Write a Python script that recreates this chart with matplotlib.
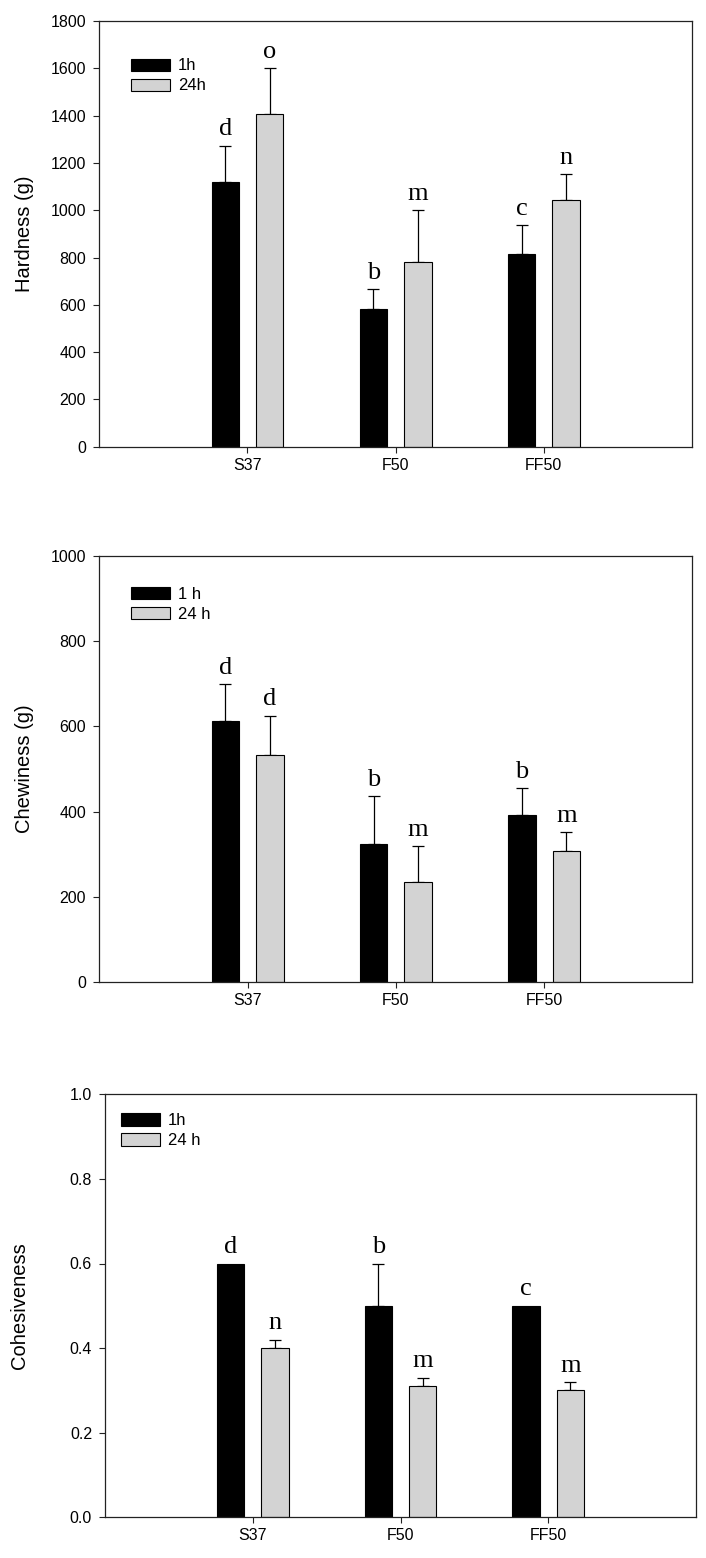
import matplotlib
matplotlib.use("Agg")
import matplotlib.pyplot as plt
import numpy as np

categories = ["S37", "F50", "FF50"]

hard_1h = [1120, 582, 815]
hard_1h_err = [153, 83, 122]
hard_24h = [1407, 782, 1042]
hard_24h_err = [193, 219, 111]
hard_letters_1h = ["d", "b", "c"]
hard_letters_24h = ["o", "m", "n"]

chew_1h = [612, 324, 391]
chew_1h_err = [87, 112, 64]
chew_24h = [533, 235, 307]
chew_24h_err = [92, 84, 44]
chew_letters_1h = ["d", "b", "b"]
chew_letters_24h = ["d", "m", "m"]

coh_1h = [0.6, 0.5, 0.5]
coh_1h_err = [0.0, 0.1, 0.0]
coh_24h = [0.40, 0.31, 0.30]
coh_24h_err = [0.02, 0.02, 0.02]
coh_letters_1h = ["d", "b", "c"]
coh_letters_24h = ["n", "m", "m"]

panels = [
    dict(v1=hard_1h, e1=hard_1h_err, v2=hard_24h, e2=hard_24h_err,
         l1=hard_letters_1h, l2=hard_letters_24h, ylabel="Hardness (g)",
         ylim=(0, 1800), yticks=np.arange(0, 1801, 200), fmt="{:.0f}",
         legend=("1h", "24h"),
         rect=[99.3, 21, 692, 446.7], lab_x=24, leg=(0.054, 0.912)),
    dict(v1=chew_1h, e1=chew_1h_err, v2=chew_24h, e2=chew_24h_err,
         l1=chew_letters_1h, l2=chew_letters_24h, ylabel="Chewiness (g)",
         ylim=(0, 1000), yticks=np.arange(0, 1001, 200), fmt="{:.0f}",
         legend=("1 h", "24 h"),
         rect=[99.3, 556, 692.3, 982], lab_x=24, leg=(0.054, 0.927)),
    dict(v1=coh_1h, e1=coh_1h_err, v2=coh_24h, e2=coh_24h_err,
         l1=coh_letters_1h, l2=coh_letters_24h, ylabel="Cohesiveness",
         ylim=(0, 1.0), yticks=np.arange(0, 1.01, 0.2), fmt="{:.1f}",
         legend=("1h", "24 h"),
         rect=[105.3, 1094.3, 695.7, 1517.3], lab_x=20, leg=(0.027, 0.955)),
]

W, H = 706, 1558
fig = plt.figure(figsize=(W / 100, H / 100), dpi=100)
sans = ["Liberation Sans", "DejaVu Sans"]
serif = ["Liberation Serif", "DejaVu Serif"]
spine_col = "#222222"

x = np.arange(1, len(categories) + 1)
bw = 0.185
off = 0.15

for p in panels:
    l, t, r, b = p["rect"]
    ax = fig.add_axes([l / W, 1 - b / H, (r - l) / W, (b - t) / H])
    b1 = ax.bar(x - off, p["v1"], bw, color="black", edgecolor="black", linewidth=0.8,
                label=p["legend"][0], zorder=2)
    b2 = ax.bar(x + off, p["v2"], bw, color="#d3d3d3", edgecolor="black", linewidth=0.8,
                label=p["legend"][1], zorder=2)
    for xs, vals, errs in [(x - off, p["v1"], p["e1"]), (x + off, p["v2"], p["e2"])]:
        for xi, v, e in zip(xs, vals, errs):
            if e > 0:
                ax.errorbar([xi], [v], yerr=[[0], [e]], fmt="none", ecolor="black",
                            elinewidth=0.9, capsize=4.5, capthick=0.9, zorder=1)
    for xs, vals, errs, labs in [(x - off, p["v1"], p["e1"], p["l1"]),
                                 (x + off, p["v2"], p["e2"], p["l2"])]:
        for xi, v, e, s in zip(xs, vals, errs, labs):
            ax.annotate(s, (xi, v + e), xytext=(0, 7.5), textcoords="offset points",
                        ha="center", va="baseline", fontsize=19, family=serif)
    ax.set_xlim(0, 4)
    ax.set_ylim(*p["ylim"])
    ax.set_xticks(x)
    ax.set_xticklabels(categories, family=sans, fontsize=11.5)
    ax.set_yticks(p["yticks"])
    ax.set_yticklabels([p["fmt"].format(v) for v in p["yticks"]], family=sans, fontsize=11.5)
    ax.tick_params(direction="out", length=4.5, width=0.8, color=spine_col, pad=3.5)
    ax.tick_params(axis="y", pad=5)
    for s in ax.spines.values():
        s.set_color(spine_col)
        s.set_linewidth(0.9)
    ax.set_ylabel(p["ylabel"], family=sans, fontsize=14.5, va="center")
    ax.yaxis.set_label_coords((p["lab_x"] - l) / (r - l), 0.5)
    ax.legend(handles=[b1, b2], loc="upper left", bbox_to_anchor=p["leg"],
              frameon=False, prop={"family": sans, "size": 12},
              handlelength=2.3, handleheight=0.74, handletextpad=0.5,
              labelspacing=0.3, borderpad=0, borderaxespad=0)

fig.savefig("out.png", dpi=100)
